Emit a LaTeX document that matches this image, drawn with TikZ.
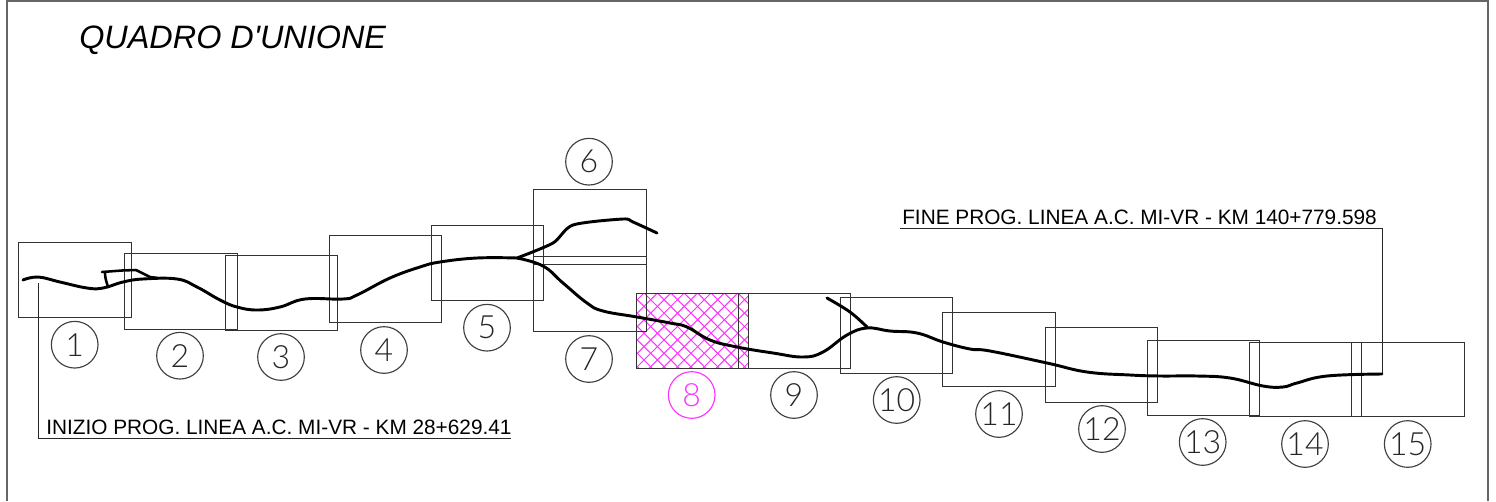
\documentclass[tikz,border=0pt]{standalone}
\usepackage{fontspec}
\setmainfont{Liberation Sans}
\newfontfamily\thinfont{Lato Light}
\newfontfamily\titlefont{Liberation Sans}
\definecolor{hatchmag}{RGB}{255,50,255}
\begin{document}
\begin{tikzpicture}[x=0.75pt,y=-0.75pt,
  box/.style={draw=black!80,line width=1pt},
  frameline/.style={draw=black!60,line width=1.1pt},
  leader/.style={draw=black!85,line width=0.75pt},
  route/.style={draw=black,line width=2.2pt,line cap=round,line join=round},
  num/.style={circle,draw=black!75,line width=0.85pt,minimum size=35pt,inner sep=0pt,text=black!85,font=\thinfont\fontsize{24}{24}\selectfont},
  labeltext/.style={anchor=base west,inner sep=0pt,text=black,font=\fontsize{15.6}{16}\selectfont}]
\useasboundingbox (0,0) rectangle (1496,501);
\path[fill=white] (0,0) rectangle (1496,501);
\draw[frameline] (7,501) -- (7,1) -- (1488,1) -- (1488,501);
% hatch
\begin{scope}
\clip (636.5,293.5) rectangle (748.5,368.5);
\foreach \i in {-10,...,30} {
  \draw[draw=hatchmag,line width=0.75pt] ({604.2+\i*13.4},280) -- ({704.2+\i*13.4},380);
  \draw[draw=hatchmag,line width=0.75pt] ({710.6+\i*13.4},280) -- ({610.6+\i*13.4},380);
}
\end{scope}
% boxes
\draw[box] (18.5,242.5) rectangle (131.5,317.5);
\draw[box] (124.5,253.5) rectangle (237.5,329.5);
\draw[box] (225.5,255.5) rectangle (337.5,330.5);
\draw[box] (329.5,235.5) rectangle (441.5,322.5);
\draw[box] (431.5,225.5) rectangle (543.5,300.5);
\draw[box] (533.5,189.5) rectangle (646.5,264.5);
\draw[box] (533.5,256.5) rectangle (646.5,331.5);
\draw[box] (636.5,293.5) rectangle (748.5,368.5);
\draw[box] (738.5,293.5) rectangle (850.5,368.5);
\draw[box] (840.5,297.5) rectangle (952.5,373.5);
\draw[box] (942.5,312.5) rectangle (1055.5,386.5);
\draw[box] (1045.5,327.5) rectangle (1157.5,402.5);
\draw[box] (1147.5,340.5) rectangle (1259.5,415.5);
\draw[box] (1249.5,342.5) rectangle (1361.5,416.5);
\draw[box] (1351.5,342.5) rectangle (1464.5,416.5);
% leaders
\coordinate (lstart) at (38.5,283);
\coordinate (lcorner) at (38.5,438.5);
\coordinate (lend) at (511,438.5);
\coordinate (rstart) at (900,228.5);
\coordinate (rcorner) at (1382.5,228.5);
\coordinate (rend) at (1382.5,374);
\draw[leader] (lstart) -- (lcorner) -- (lend);
\draw[leader] (rstart) -- (rcorner) -- (rend);
% routes
\draw[route] plot[smooth,tension=0.7] coordinates {(23,280) (38,277) (60,282) (87,288) (103,288) (123,282) (143,279) (177,279) (197,287) (220,300) (237,307) (257,310) (280,307) (305,299) (343,299) (357,295) (390,278) (420,267) (440,262) (477,258) (517,258)};
\draw[route] plot[smooth,tension=0.45] coordinates {(517,258) (553,243) (573,225) (623,219) (633,222) (657,233)};
\draw[route] plot[smooth,tension=0.7] coordinates {(517,258) (543,266) (563,283) (587,303) (603,311) (637,317) (670,323) (687,327) (710,340) (737,347) (773,353) (803,357) (823,352) (847,335) (867,328) (890,331) (917,333) (943,342) (970,349) (990,351) (1047,363) (1087,372) (1130,375) (1160,376) (1197,376) (1230,378) (1263,386) (1283,387) (1297,383) (1327,376) (1382,374)};
\draw[route] plot[smooth,tension=0.6] coordinates {(827,298) (850,312) (867,327)};
\draw[route,line width=1.9pt] (102,272) -- (122,270.5) -- (136,270) -- (150,277) -- (158,278);
\draw[route,line width=1.9pt] (105,273) .. controls (105,279) and (107,283) .. (108,287);
% numbers
\node[num] (n1) at (74.7,344.7) {1};
\node[num] (n2) at (180,355.7) {2};
\node[num] (n3) at (281,357) {3};
\node[num] (n4) at (384,350) {4};
\node[num] (n5) at (487,327.7) {5};
\node[num] (n6) at (589,161.7) {6};
\node[num] (n7) at (589,359) {7};
\node[num,draw=hatchmag,text=hatchmag] (n8) at (691.7,395) {8};
\node[num] (n9) at (794,395) {9};
\node[num] (n10) at (896.7,400) {10};
\node[num] (n11) at (999,414) {11};
\node[num] (n12) at (1102,429) {12};
\node[num] (n13) at (1202.7,442) {13};
\node[num] (n14) at (1305,444) {14};
\node[num] (n15) at (1407.7,444) {15};
% texts
\node[anchor=base west,inner sep=0pt,font=\titlefont\itshape\fontsize{24.3}{25}\selectfont] (title) at (79,48) {QUADRO D'UNIONE};
\node[labeltext] (ltext) at (46,434) {INIZIO PROG. LINEA A.C. MI-VR - KM 28+629.41};
\node[labeltext] (rtext) at (902,224) {FINE PROG. LINEA A.C. MI-VR - KM 140+779.598};
\end{tikzpicture}
\end{document}
